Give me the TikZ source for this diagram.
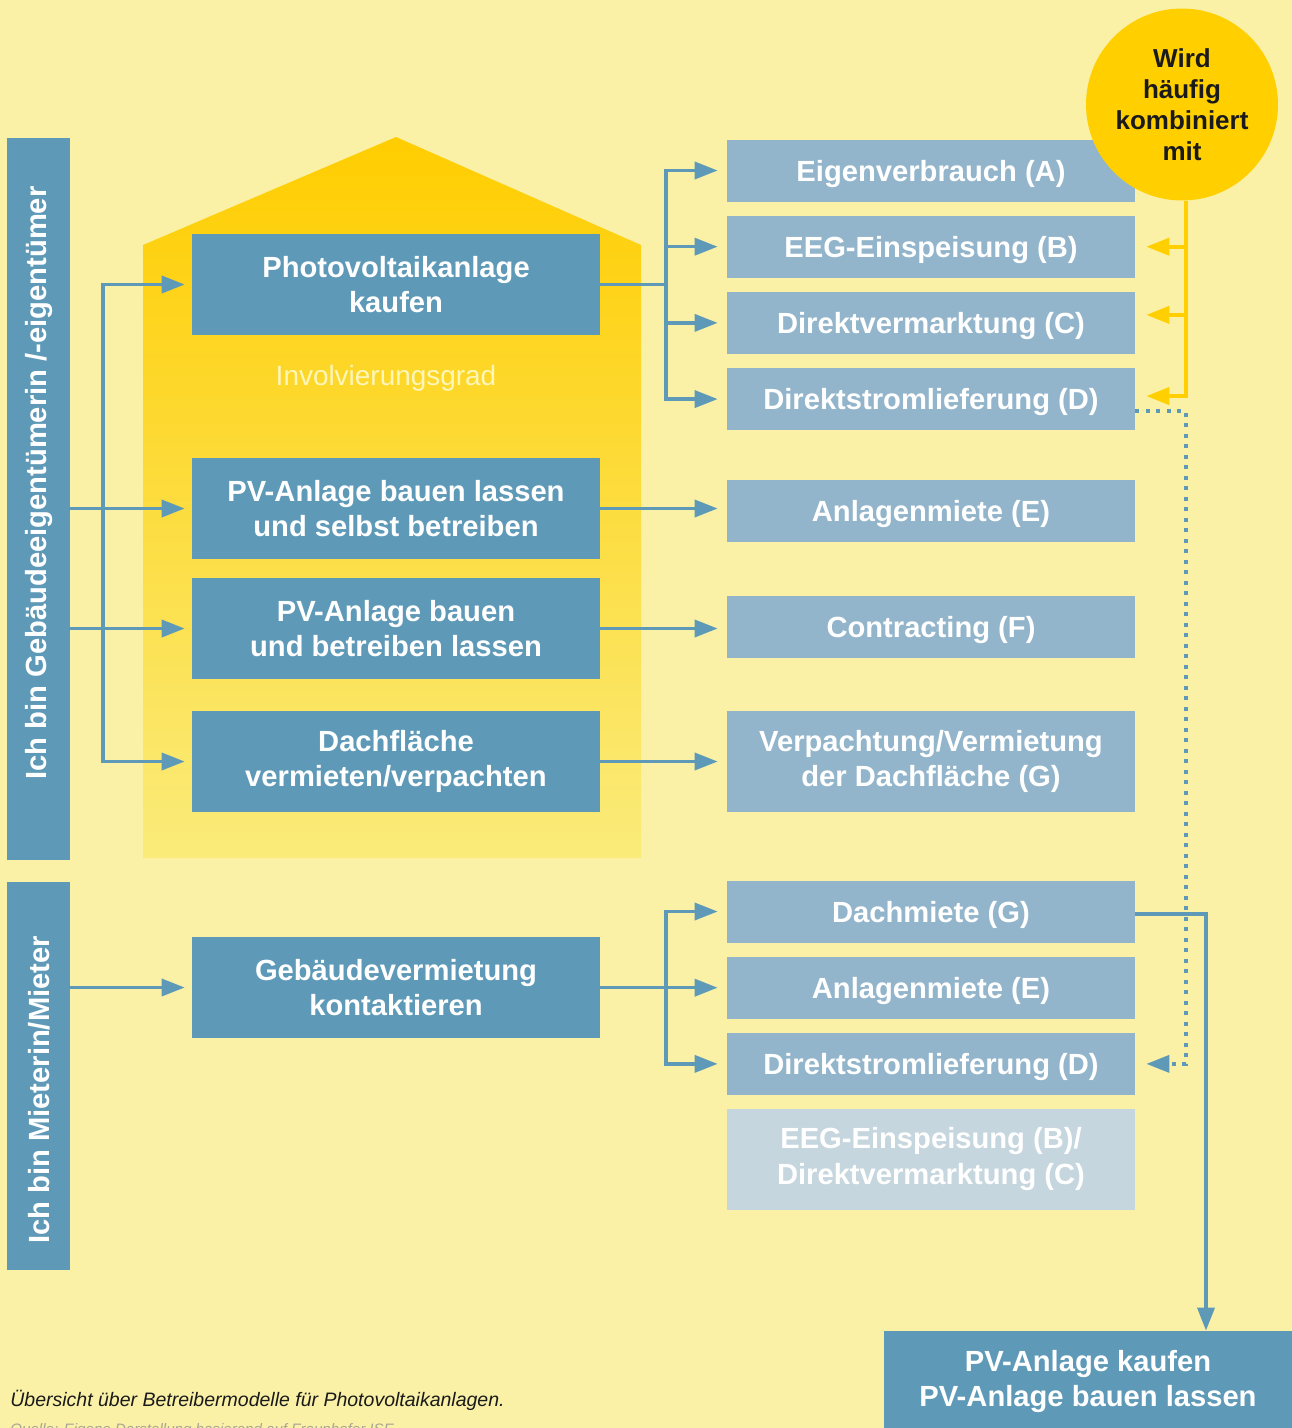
\documentclass[tikz,border=0pt]{standalone}
\usepackage{fontspec}
\setmainfont{Liberation Sans}
\usetikzlibrary{arrows.meta,positioning}

\definecolor{paper}{HTML}{FAF1A7}
\definecolor{steel}{HTML}{5E9AB8}
\definecolor{sky}{HTML}{93B5CB}
\definecolor{mist}{HTML}{C6D6DE}
\definecolor{sun}{HTML}{FFCF00}
\definecolor{rooftop}{HTML}{FFCD00}
\definecolor{roofbottom}{HTML}{FAEB7A}
\definecolor{pale}{HTML}{FFF6B8}
\definecolor{ink}{HTML}{1A1A1A}
\definecolor{source}{HTML}{A8A594}

\newcommand{\boxfont}{\bfseries\fontsize{16.6}{20}\selectfont}

\begin{document}
\begin{tikzpicture}[x=0.02cm, y=-0.02cm, node distance=0.27cm,
		every node/.style = {align=center, inner sep=0pt},
		role/.style = {fill=steel, minimum width=1.26cm},
		roletext/.style = {rotate=90, text=white, font=\boxfont},
		model/.style = {fill=steel, text=white, font=\boxfont,
			minimum width=8.16cm, minimum height=2.02cm},
		tile/.style = {fill=sky, text=white, font=\boxfont, minimum width=8.16cm},
		option/.style = {tile, minimum height=1.24cm, text height=0.42cm, text depth=0pt},
		optionpair/.style = {tile, minimum height=2.02cm},
		wire/.style = {draw=steel, line width=2pt},
		link/.style = {wire, -{Triangle[length=0.46cm, width=0.34cm]}, shorten >=0.18cm},
		dotlink/.style = {link, dash pattern=on 0.08cm off 0.13cm, shorten >=0.22cm},
		ylink/.style = {draw=sun, line width=2.2pt,
			-{Triangle[length=0.46cm, width=0.34cm]}, shorten >=0.22cm}]
		
		\useasboundingbox (0,0) rectangle (1292,1428);
		\fill[paper] (0,0) rectangle (1292,1428);
		
		\shade[top color=rooftop, bottom color=roofbottom]
			(143,858) -- (143,245) -- (396,137) -- (641,245) -- (641,858) -- cycle;
		\node[text=pale, font=\fontsize{15.9}{19}\selectfont] (grad) at (386,378) {Involvierungsgrad};
		
		\node[role, minimum height=14.44cm] (owner) at (38.5,499) {};
		\node[roletext] (ownertext) at (39,483) {Ich bin Gebäudeeigentümerin /-eigentümer};
		\node[role, minimum height=7.76cm] (tenant) at (38.5,1076) {};
		\node[roletext] (tenanttext) at (39,1090) {Ich bin Mieterin/Mieter};
		
		\node[model] (buy) at (396,284.5) {Photovoltaikanlage\\kaufen};
		\node[model] (build) at (396,508.5) {PV-Anlage bauen lassen\\und selbst betreiben};
		\node[model] (operate) at (396,628.5) {PV-Anlage bauen\\und betreiben lassen};
		\node[model] (roof) at (396,761.5) {Dachfläche\\vermieten/verpachten};
		\node[model] (landlord) at (396,987.5) {Gebäudevermietung\\kontaktieren};
		
		\node[option] (self) at (931,170.5) {Eigenverbrauch (A)};
		\node[option, below=of self] (feed) {EEG-Einspeisung (B)};
		\node[option, below=of feed] (market) {Direktvermarktung (C)};
		\node[option, below=of market] (direct) {Direktstromlieferung (D)};
		\node[option] (rent) at (931,511) {Anlagenmiete (E)};
		\node[option] (contract) at (931,627) {Contracting (F)};
		\node[optionpair] (lease) at (931,761.5) {Verpachtung/Vermietung\\der Dachfläche (G)};
		\node[option] (roofrent) at (931,911.5) {Dachmiete (G)};
		\node[option, below=of roofrent] (rent2) {Anlagenmiete (E)};
		\node[option, below=of rent2] (direct2) {Direktstromlieferung (D)};
		\node[optionpair, fill=mist, below=0.26cm of direct2] (feed2) {EEG-Einspeisung (B)/\\Direktvermarktung (C)};
		
		\node[model] (result) at (1088,1381.5) {PV-Anlage kaufen\\PV-Anlage bauen lassen};
		
		\coordinate (ownbus) at (103,0);
		\coordinate (splitbus) at (666,0);
		\coordinate (combibus) at (1186,0);
		\coordinate (roofbus) at (1206,0);
		
		\draw[wire] (ownbus |- build.west) -- (ownbus |- operate.west);
		\draw[link, shorten >=0.14cm] (ownbus |- build.west) |- (buy.west);
		\draw[link, shorten >=0.14cm] (ownbus |- operate.west) |- (roof.west);
		\draw[link, shorten >=0.14cm] (owner.east |- build.west) -- (build.west);
		\draw[link, shorten >=0.14cm] (owner.east |- operate.west) -- (operate.west);
		\draw[link, shorten >=0.14cm] (tenant.east |- landlord.west) -- (landlord.west);
		
		\draw[wire] (buy.east) -- (splitbus |- buy.east);
		\foreach \n in {self,feed,market,direct}
			\draw[link] (splitbus |- buy.east) |- (\n.west);
		\draw[link] (build.east) -- (build.east -| rent.west);
		\draw[link] (operate.east) -- (operate.east -| contract.west);
		\draw[link] (roof.east) -- (lease.west);
		\draw[wire] (landlord.east) -- (splitbus |- landlord.east);
		\foreach \n in {roofrent,rent2,direct2}
			\draw[link] (splitbus |- landlord.east) |- (\n.west);
		
		\draw[dotlink] ([yshift=-0.24cm]direct.east) -| (combibus |- direct2.east) -- (direct2.east);
		\draw[link, shorten >=0pt] ([yshift=-0.05cm]roofrent.east) -| (roofbus |- result.north);
		
		\node[circle, fill=sun, minimum size=3.84cm, text=ink,
			font=\bfseries\fontsize{14.8}{17.6}\selectfont] (combi) at (1182,104.5) {Wird\\häufig\\kombiniert\\mit};
		\draw[ylink] (combibus |- combi.south) |- ([yshift=0.06cm]direct.east);
		\draw[ylink] (combibus |- feed.east) -- (feed.east);
		\draw[ylink] ([yshift=0.16cm]combibus |- market.east) -- ([yshift=0.16cm]market.east);
		
		\node[anchor=base west, text=ink, font=\itshape\fontsize{11.1}{13}\selectfont] (caption) at (10,1406)
			{Übersicht über Betreibermodelle für Photovoltaikanlagen.};
		\node[anchor=base west, text=source, font=\itshape\fontsize{8.6}{10}\selectfont] (credit) at (10,1434)
			{Quelle: Eigene Darstellung basierend auf Fraunhofer ISE};
	\end{tikzpicture}
\end{document}
